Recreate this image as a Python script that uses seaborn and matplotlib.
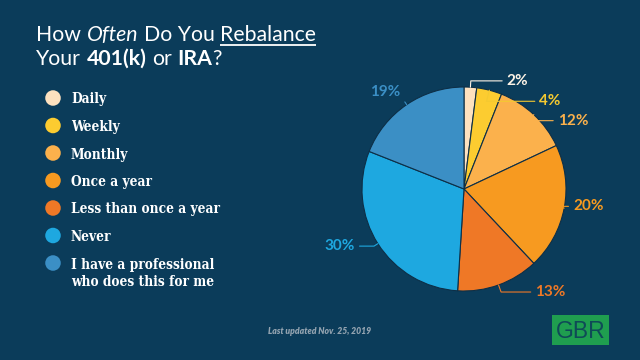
import numpy as np
import pandas as pd
import seaborn as sns
import matplotlib.pyplot as plt
from matplotlib.patches import Rectangle

# --- Data ---
CATEGORIES = ['Daily', 'Weekly', 'Monthly', 'Once a year', 'Less than once a year', 'Never',
              'I have a professional\nwho does this for me']
SHARES = [2, 4, 12, 20, 13, 30, 19]
PCT_LABELS = [f'{v}%' for v in SHARES]

# --- Style ---
BG = '#0b3c5a'
WEDGE_COLORS = ['#fde1bf', '#fccc30', '#fbb14c', '#f79a20', '#ef7826', '#1ea8e0', '#3b8fc5']
LABEL_COLORS = ['#fdf3e6', '#f4c930', '#fbb14c', '#f79a20', '#ef7826', '#1ea8e0', '#3b8fc5']
TITLE_FONT = 'Lato'
LEGEND_FONT = 'DejaVu Serif'

# pie centre / radius in pixels, label anchors in pie-radius units
PIE_CX, PIE_CY, PIE_R = 464, 189, 102
LABEL_POS = [(0.42, 1.06), (0.74, 0.86), (0.92, 0.67), (1.07, -0.17),
             (0.70, -1.01), (-1.07, -0.56), (-0.62, 0.95)]


def draw_title(ax, fig):
    r = fig.canvas.get_renderer()
    size = 15.3
    lines = [
        (41, [('How', 'normal', 'normal', False), (' Often', 'italic', 'normal', False),
              (' Do You', 'normal', 'normal', False), (' Rebalance', 'normal', 'normal', True)]),
        (65, [('Your', 'normal', 'normal', False), (' 401(k)', 'normal', 'bold', False),
              (' or', 'normal', 'normal', False), (' IRA', 'normal', 'bold', False),
              ('?', 'normal', 'normal', False)]),
    ]
    probe = ax.text(0, 0, 'a a', family=TITLE_FONT, size=size)
    w1 = probe.get_window_extent(r).width
    probe.set_text('aa')
    space = w1 - probe.get_window_extent(r).width
    probe.remove()

    for y, pieces in lines:
        x = 36
        for txt, style, weight, under in pieces:
            if txt.startswith(' '):
                x += space
                txt = txt[1:]
            t = ax.text(x, y, txt, family=TITLE_FONT, size=size, style=style,
                        weight=weight, color='white', va='baseline', ha='left')
            w = t.get_window_extent(r).width
            if under:
                ax.plot([x, x + w], [y + 3.5, y + 3.5], color='white', lw=1.3,
                        solid_capstyle='butt')
            x += w


def draw_legend(ax):
    ys = 98 + np.arange(len(CATEGORIES)) * 27.5
    ax.scatter(np.full(len(ys), 53), ys, s=125, c=WEDGE_COLORS, linewidths=0, zorder=3)
    for y, cat in zip(ys, CATEGORIES):
        for i, line in enumerate(cat.split('\n')):
            ax.text(71, y + i * 18, line, family=LEGEND_FONT, weight='bold', size=9.8,
                    stretch='condensed', color='white', va='center_baseline', ha='left')


def draw_pie(fig):
    half = 170
    ax = fig.add_axes([(PIE_CX - half) / 640, (360 - PIE_CY - half) / 360,
                       2 * half / 640, 2 * half / 360])
    wedges, _ = ax.pie(SHARES, colors=sns.color_palette(WEDGE_COLORS), startangle=90,
                       counterclock=False, radius=1,
                       wedgeprops=dict(edgecolor='#0d2f47', linewidth=0.8))
    lim = half / PIE_R
    ax.set_xlim(-lim, lim)
    ax.set_ylim(-lim, lim)
    ax.set_aspect('equal')
    ax.axis('off')

    for w, lab, col, (lx, ly) in zip(wedges, PCT_LABELS, LABEL_COLORS, LABEL_POS):
        mid = np.deg2rad((w.theta1 + w.theta2) / 2)
        px, py = np.cos(mid), np.sin(mid)
        right = lx > 0
        ax.annotate(lab, xy=(px, py), xytext=(lx, ly), ha='left' if right else 'right',
                    va='center', family=TITLE_FONT, weight='bold', size=11, color=col,
                    annotation_clip=False,
                    arrowprops=dict(arrowstyle='-', color=col, lw=0.8,
                                    relpos=(0, 0.5) if right else (1, 0.5),
                                    shrinkA=1, shrinkB=0,
                                    connectionstyle=f'angle,angleA=0,angleB={np.rad2deg(mid):.1f},rad=0'))


def main():
    sns.set_theme(style='white')
    plt.rcParams['font.family'] = [TITLE_FONT, 'DejaVu Sans']
    fig = plt.figure(figsize=(6.4, 3.6), dpi=100, facecolor=BG)
    ax_bg = fig.add_axes([0, 0, 1, 1], zorder=0)
    ax_bg.set_xlim(0, 640)
    ax_bg.set_ylim(360, 0)
    ax_bg.set_facecolor(BG)
    ax_bg.axis('off')

    draw_title(ax_bg, fig)
    draw_legend(ax_bg)
    draw_pie(fig)

    ax_bg.text(320, 332, 'Last updated Nov. 25, 2019', ha='center', va='center',
               style='italic', weight='heavy', size=6.2, color='#93a3b0')
    ax_bg.add_patch(Rectangle((552, 315), 57, 30, color='#1f9e4f', lw=0))
    ax_bg.text(580.5, 331, 'GBR', ha='center', va='center', family='Liberation Sans',
               size=16.5, color='#0f4a57')

    fig.savefig('out.png', dpi=100, facecolor=BG)


if __name__ == '__main__':
    main()
